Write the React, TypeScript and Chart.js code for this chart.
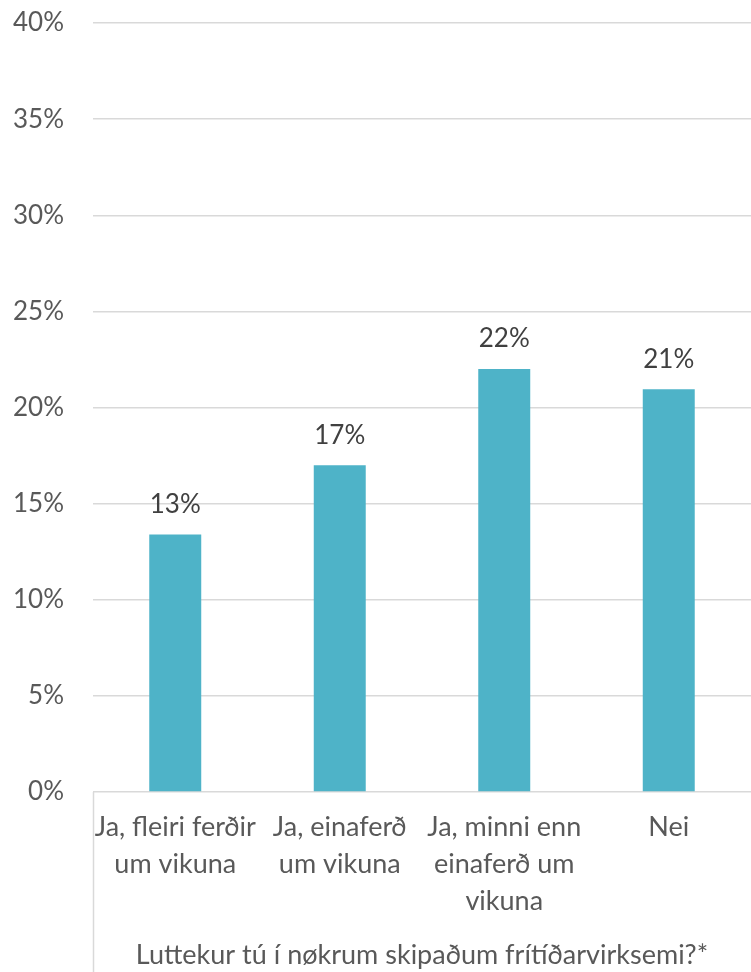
import React, { useEffect, useRef } from "react";
import { Chart, registerables } from "chart.js";

Chart.register(...registerables);

const categories: string[][] = [
  ["Ja, fleiri ferðir", "um vikuna"],
  ["Ja, einaferð", "um vikuna"],
  ["Ja, minni enn", "einaferð um", "vikuna"],
  ["Nei"],
];
const values: number[] = [13.4, 17.0, 22.0, 20.95];
const axisTitle = "Luttekur tú í nøkrum skipaðum frítíðarvirksemi?*";
const yMin = 0;
const yMax = 40;
const yStep = 5;

const FONT = "Lato, 'Open Sans', sans-serif";
const TEXT = "#595959";
const GRID = "#d9d9d9";
const BAR = "#4EB3C8";

const valueLabels = {
  id: "valueLabels",
  afterDatasetsDraw(chart: any) {
    const ctx = chart.ctx;
    const meta = chart.getDatasetMeta(0);
    ctx.save();
    ctx.font = `26px ${FONT}`;
    ctx.fillStyle = "#404040";
    ctx.textAlign = "center";
    ctx.textBaseline = "middle";
    meta.data.forEach((el: any, i: number) => {
      const v = chart.data.datasets[0].data[i] as number;
      ctx.fillText(Math.round(v) + "%", el.x, el.y - 30);
    });
    ctx.restore();
  },
};

const leftLine = {
  id: "leftLine",
  afterDraw(chart: any) {
    const { ctx, chartArea } = chart;
    ctx.save();
    ctx.strokeStyle = GRID;
    ctx.lineWidth = 1.5;
    ctx.beginPath();
    ctx.moveTo(chartArea.left + 0.5, chartArea.bottom);
    ctx.lineTo(chartArea.left + 0.5, chart.height);
    ctx.stroke();
    ctx.restore();
  },
};

export default function App() {
  const ref = useRef<HTMLCanvasElement>(null);
  useEffect(() => {
    if (!ref.current) return;
    const chart = new Chart(ref.current, {
      type: "bar",
      data: {
        labels: categories,
        datasets: [
          {
            data: values,
            backgroundColor: BAR,
            borderWidth: 0,
            categoryPercentage: 1,
            barPercentage: 0.316,
          },
        ],
      },
      options: {
        animation: false,
        responsive: false,
        devicePixelRatio: 1,
        layout: { padding: { top: 23, right: 0, left: 0, bottom: 0 } },
        plugins: { legend: { display: false }, tooltip: { enabled: false } },
        scales: {
          x: {
            grid: { display: false, drawTicks: false },
            border: { display: false },
            ticks: {
              color: TEXT,
              font: { family: FONT, size: 27, lineHeight: 1.37 },
              padding: 17,
              maxRotation: 0,
              autoSkip: false,
            },
            title: {
              display: true,
              text: axisTitle,
              color: TEXT,
              font: { family: FONT, size: 27, lineHeight: 1.2 },
              padding: { top: 0, bottom: 1 },
            },
            afterFit(scale: any) {
              scale.height = 180;
              scale.paddingTop = 0;
              scale.paddingBottom = 0;
            },
          },
          y: {
            min: yMin,
            max: yMax,
            grid: { color: GRID, lineWidth: 1.5, drawTicks: false },
            border: { display: false },
            ticks: {
              stepSize: yStep,
              color: TEXT,
              font: { family: FONT, size: 26 },
              padding: 29,
              callback: (v: any) => v + "%",
            },
            afterFit(scale: any) {
              scale.width = 93;
              scale.paddingTop = 0;
              scale.paddingBottom = 0;
            },
          },
        },
      },
      plugins: [valueLabels, leftLine],
    });
    return () => chart.destroy();
  }, []);
  return (
    <div style={{ position: "fixed", left: 0, top: 0, width: 751, height: 972 }}>
      <canvas ref={ref} width={751} height={972} style={{ width: 751, height: 972 }} />
    </div>
  );
}
